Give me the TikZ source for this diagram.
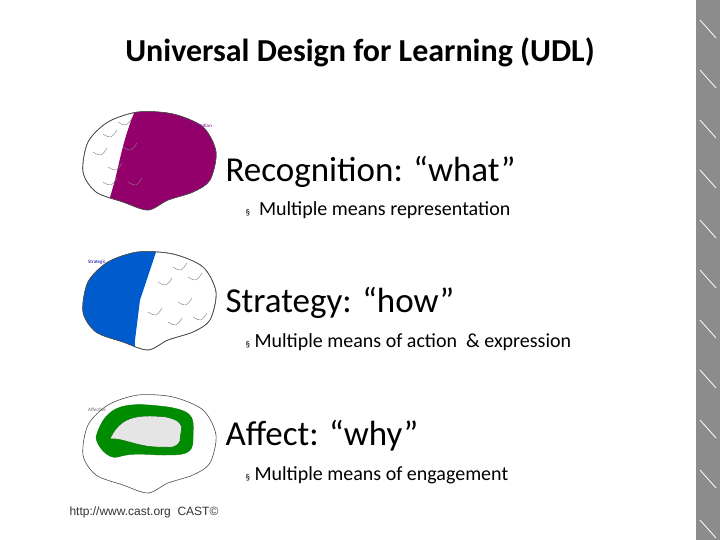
\documentclass[tikz,border=0pt]{standalone}
\usetikzlibrary{calc}
\usepackage{fontspec}
\setmainfont{Carlito}
\newfontfamily\webfont{Liberation Sans}
\begin{document}
\begin{tikzpicture}[x=1pt,y=-1pt,
  heading/.style={font=\fontsize{32}{36}\selectfont\bfseries},
  area/.style={anchor=west,font=\fontsize{35}{40}\selectfont},
  means/.style={anchor=west,font=\fontsize{20}{24}\selectfont},
  brainline/.style={draw=black!70,line width=0.6pt,fill=white}]
\useasboundingbox (0,0) rectangle (720,540);
% right hand strip
\fill[black!45] (696,0) rectangle (720,540);
\foreach \y in {20,70,...,520}
  \draw[white,line width=0.8pt] (700,\y) -- (716,\y+18);

\node[heading] (title) at (360,52) {Universal Design for Learning (UDL)};

% brain outline macro
\newcommand{\brainpath}[1]{plot[smooth cycle] coordinates {
  ($(#1)+(-65,10)$) ($(#1)+(-60,-20)$) ($(#1)+(-40,-40)$) ($(#1)+(-10,-50)$)
  ($(#1)+(25,-48)$) ($(#1)+(55,-35)$) ($(#1)+(68,-10)$) ($(#1)+(62,18)$)
  ($(#1)+(45,30)$) ($(#1)+(20,38)$) ($(#1)+(0,48)$) ($(#1)+(-25,40)$) ($(#1)+(-52,30)$)}}

% Recognition brain
\coordinate (brainA) at (148,162);
\draw[brainline] \brainpath{brainA};
\begin{scope}
  \clip \brainpath{brainA};
  \fill[violet!70!purple] (140,100) .. controls (125,130) and (120,160) .. (115,180) -- (105,215) -- (230,230) -- (230,100) -- cycle;
\end{scope}
\draw[black!70,line width=0.6pt] \brainpath{brainA};
\foreach \a/\b in {-55/-10,-45/-28,-40/5,-30/-40,-25/-15,-20/20,-45/20}
  \draw[black!50] ($(brainA)+(\a,\b)$) .. controls +(8,5) and +(-5,8) .. +(14,-4);
\node[font=\tiny,violet] (labA) at (200,126) {Recognition};

% Strategy brain
\coordinate (brainB) at (148,302);
\draw[brainline] \brainpath{brainB};
\begin{scope}
  \clip \brainpath{brainB};
  \fill[blue!55!cyan!80!black] (70,240) rectangle (135,360);
  \fill[blue!55!cyan!80!black] (135,240) -- (160,240) -- (140,300) -- (135,340) -- cycle;
\end{scope}
\draw[black!70,line width=0.6pt] \brainpath{brainB};
\foreach \a/\b in {10/-20,30/0,20/20,40/-25,0/10,45/15,25/-35}
  \draw[black!50] ($(brainB)+(\a,\b)$) .. controls +(8,5) and +(-5,8) .. +(14,-4);
\node[font=\tiny,blue!60!black] (labB) at (97,262) {Strategic};

% Affect brain
\coordinate (brainC) at (148,445);
\draw[brainline] \brainpath{brainC};
\draw[green!50!black,fill=green!55!black,line width=0.4pt]
  ($(brainC)+(-52,-8)$) .. controls +(10,-35) and +(-40,-5) .. ($(brainC)+(20,-38)$)
  .. controls +(30,5) and +(0,-20) .. ($(brainC)+(45,-5)$)
  .. controls +(0,15) and +(20,0) .. ($(brainC)+(15,10)$)
  .. controls +(-15,0) and +(15,-5) .. ($(brainC)+(-30,12)$)
  .. controls +(-10,3) and +(0,8) .. cycle;
\draw[fill=black!10,draw=green!40!black]
  ($(brainC)+(-38,-6)$) .. controls +(10,-22) and +(-30,-3) .. ($(brainC)+(18,-28)$)
  .. controls +(22,5) and +(0,-12) .. ($(brainC)+(32,-4)$)
  .. controls +(-5,8) and +(15,0) .. ($(brainC)+(10,2)$)
  .. controls +(-20,0) and +(10,-2) .. cycle;
\node[font=\tiny,black!60] (labC) at (97,410) {Affective};

% texts
\node[area] (recog) at (222,172) {Recognition: “what”};
\node[means] (recogm) at (242,210) {{\small§}\ \ Multiple means representation};
\node[area] (strat) at (222,303) {Strategy: “how”};
\node[means] (stratm) at (242,342) {{\small§} Multiple means of action \ \& expression};
\node[area] (affect) at (222,436) {Affect: “why”};
\node[means] (affectm) at (242,475) {{\small§} Multiple means of engagement};

\node[anchor=west,font=\webfont\fontsize{12}{14}\selectfont,black!80] (source) at (66,512) {http://www.cast.org \ CAST©};
\end{tikzpicture}
\end{document}
